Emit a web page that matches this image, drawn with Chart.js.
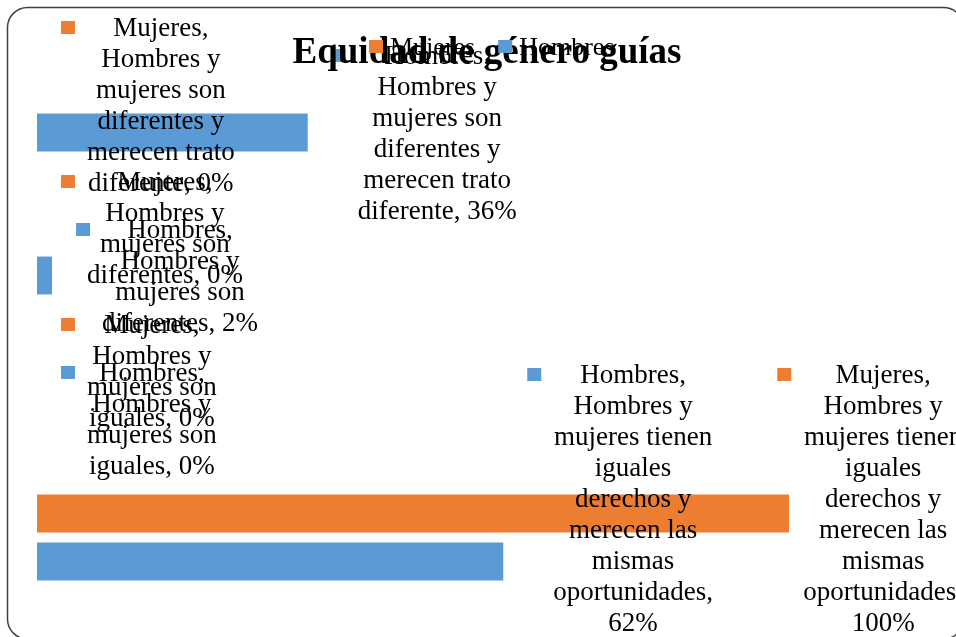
<!DOCTYPE html>
<html>
<head>
<meta charset="utf-8">
<script src="https://cdn.jsdelivr.net/npm/chart.js@4/dist/chart.umd.min.js"></script>
<style>
    body { margin: 0; background: #fff; }
    #wrap { width: 956px; height: 637px; position: relative; }
</style>
</head>
<body>
<div id="wrap"><canvas id="chart"></canvas></div>
<script>
// Data
const categories = [
    'Hombres y mujeres son diferentes y merecen trato diferente',
    'Hombres y mujeres son diferentes',
    'Hombres y mujeres son iguales',
    'Hombres y mujeres tienen iguales derechos y merecen las mismas oportunidades'
];
const mujeres = [0, 0, 0, 100];
const hombres = [36, 2, 0, 62];
const chartTitle = 'Equidad de género guías';

const ORANGE = '#ED7D31';
const BLUE = '#5B9BD5';
const SERIF = '"Liberation Serif", "Times New Roman", serif';
const LABEL_FONT = '27px ' + SERIF;
const LINE_H = 31;
const WRAP_W = 165;

function wrapText(ctx, text, maxW) {
    const words = text.split(' ');
    const lines = [];
    let line = '';
    words.forEach(w => {
        const test = line ? line + ' ' + w : w;
        if (line && ctx.measureText(test).width > maxW) {
            lines.push(line);
            line = w;
        } else {
            line = test;
        }
    });
    if (line) lines.push(line);
    return lines;
}

// data labels with legend key, like the Excel ones
const labelPlugin = {
    id: 'keyLabels',
    afterDatasetsDraw(chart) {
        const ctx = chart.ctx;
        ctx.save();
        ctx.font = LABEL_FONT;
        ctx.textAlign = 'center';
        ctx.textBaseline = 'alphabetic';
        chart.data.datasets.forEach((ds, di) => {
            const meta = chart.getDatasetMeta(di);
            meta.data.forEach((bar, i) => {
                const text = `${ds.label}, ${chart.data.labels[i]}, ${ds.data[i]}%`;
                const lines = wrapText(ctx, text, WRAP_W);
                const maxW = Math.max(...lines.map(l => ctx.measureText(l).width));
                let keyX = bar.x + 24;
                if (keyX + 26 + maxW > 963) keyX = 963 - 26 - maxW;
                let first = bar.y - (lines.length - 1) * LINE_H / 2 + 9;
                first = Math.max(first, 36);
                first = Math.min(first, 631 - (lines.length - 1) * LINE_H);
                ctx.fillStyle = ds.backgroundColor;
                ctx.fillRect(keyX, first - 15, 14, 13);
                ctx.fillStyle = '#000';
                const cx = keyX + 26 + maxW / 2;
                lines.forEach((l, k) => ctx.fillText(l, cx, first + k * LINE_H));
            });
        });
        ctx.restore();
    },
    afterDraw(chart) {
        const ctx = chart.ctx;
        ctx.save();
        // title
        ctx.font = 'bold 37px ' + SERIF;
        ctx.fillStyle = '#000';
        ctx.textAlign = 'center';
        ctx.fillText(chartTitle, 487, 63);
        // legend
        ctx.font = '26px ' + SERIF;
        ctx.textAlign = 'left';
        let x = 369;
        chart.data.datasets.forEach(ds => {
            ctx.fillStyle = ds.backgroundColor;
            ctx.fillRect(x, 40, 14, 13);
            ctx.fillStyle = '#000';
            ctx.fillText(ds.label, x + 21, 55);
            x += 21 + ctx.measureText(ds.label).width + 23;
        });
        // chart border (bottom edge falls just outside the picture)
        ctx.strokeStyle = '#404040';
        ctx.lineWidth = 1.5;
        ctx.beginPath();
        ctx.roundRect(7.5, 7.5, 956, 631.5, 20);
        ctx.stroke();
        ctx.restore();
    }
};

new Chart(document.getElementById('chart'), {
    type: 'bar',
    data: {
        labels: categories,
        datasets: [
            { label: 'Mujeres', data: mujeres, backgroundColor: ORANGE },
            { label: 'Hombres', data: hombres, backgroundColor: BLUE }
        ]
    },
    options: {
        indexAxis: 'y',
        responsive: true,
        maintainAspectRatio: false,
        animation: false,
        categoryPercentage: 0.671,
        barPercentage: 0.79,
        layout: { padding: { left: 37, right: 167, top: 37, bottom: 28 } },
        scales: {
            x: { display: false, min: 0, max: 100 },
            y: { display: false }
        },
        plugins: {
            legend: { display: false },
            title: { display: false },
            tooltip: { enabled: false }
        }
    },
    plugins: [labelPlugin]
});
</script>
</body>
</html>
